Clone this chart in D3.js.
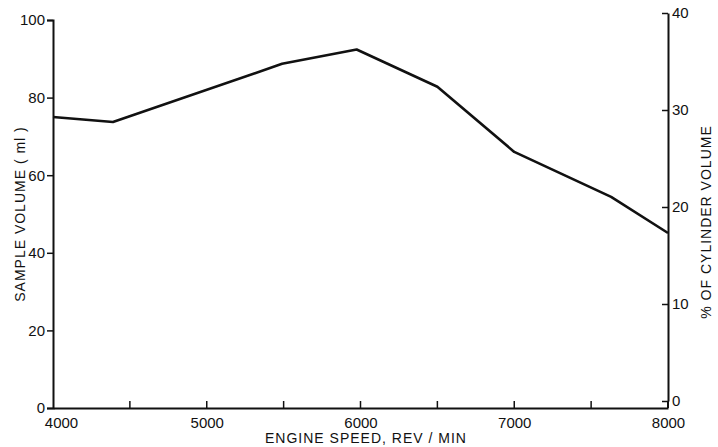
<!DOCTYPE html>
<html>
<head>
<meta charset="utf-8">
<script src="https://cdn.jsdelivr.net/npm/d3@7"></script>
<style>
  body { margin: 0; background: #fff; }
  text { font-family: "Liberation Sans", Arial, sans-serif; fill: #111; }
</style>
</head>
<body>
<svg id="chart"></svg>
<script>
// engine speed (rev/min) vs sample volume (ml)
const speeds = [4000, 4390, 5490, 5975, 6500, 7000, 7630, 8000]
const volumes = [75.0, 73.7, 88.7, 92.4, 82.8, 66.0, 54.4, 45.1]
const xTicks = [4000, 5000, 6000, 7000, 8000]
const xMinorTicks = [4500, 5500, 6500, 7500]
const leftTicks = [0, 20, 40, 60, 80, 100]
const rightTicks = [0, 10, 20, 30, 40]

const width = 718
const height = 447
const svg = d3.select('#chart').attr('width', width).attr('height', height)

const x = d3.scaleLinear().domain([4000, 8000]).range([53, 668])
const yL = d3.scaleLinear().domain([0, 100]).range([408, 20])
const yR = d3.scaleLinear().domain([0, 40]).range([401, 13])

// 軸
const xAxis = d3.axisBottom(x).tickValues(xTicks).tickSize(0).tickPadding(9)
  .tickFormat(d3.format('d'))
const gx = svg.append('g').attr('transform', `translate(0,${yL(0)})`).call(xAxis)
gx.select('.domain').attr('stroke', '#111').attr('stroke-width', 2)
gx.selectAll('text').attr('font-size', 15).attr('dy', '0.75em')
  .attr('dx', d => d === 4000 ? 8 : 0)

// x ticks point up into the plot
svg.append('g').selectAll('line')
  .data(xTicks.concat(xMinorTicks).filter(d => d > 4000 && d < 8000))
  .enter().append('line')
  .attr('x1', d => x(d)).attr('x2', d => x(d))
  .attr('y1', yL(0)).attr('y2', yL(0) - 7)
  .attr('stroke', '#111').attr('stroke-width', 1.5)

const leftAxis = d3.axisLeft(yL).tickValues(leftTicks).tickSize(6).tickPadding(2)
const gl = svg.append('g').attr('transform', `translate(${x(4000)},0)`).call(leftAxis)
gl.select('.domain').attr('stroke', '#111').attr('stroke-width', 2)
gl.selectAll('line').attr('stroke', '#111').attr('stroke-width', 1.5)
gl.selectAll('text').attr('font-size', 15)

const rightAxis = d3.axisRight(yR).tickValues(rightTicks).tickSizeInner(-6).tickSizeOuter(0).tickPadding(4)
const gr = svg.append('g').attr('transform', `translate(${x(8000)},0)`).call(rightAxis)
gr.select('.domain').attr('stroke', '#111').attr('stroke-width', 2)
gr.selectAll('line').attr('stroke', '#111').attr('stroke-width', 1.5)
gr.selectAll('text').attr('font-size', 15)
// carry the right axis line down to the x axis
gr.append('line')
  .attr('x1', 0).attr('x2', 0)
  .attr('y1', yR(0)).attr('y2', yL(0))
  .attr('stroke', '#111').attr('stroke-width', 2)

// titles
svg.append('text')
  .attr('x', 366).attr('y', 443)
  .attr('text-anchor', 'middle').attr('font-size', 14).attr('letter-spacing', 1)
  .text('ENGINE SPEED, REV / MIN')

svg.append('text')
  .attr('transform', 'translate(25,214) rotate(-90)')
  .attr('text-anchor', 'middle').attr('font-size', 14).attr('letter-spacing', 1)
  .text('SAMPLE VOLUME ( ml )')

svg.append('text')
  .attr('transform', 'translate(711,222) rotate(-90)')
  .attr('text-anchor', 'middle').attr('font-size', 14).attr('letter-spacing', 1)
  .text('% OF CYLINDER VOLUME')

// 曲線
const line = d3.line()
  .x((d, i) => x(speeds[i]))
  .y(d => yL(d))

svg.append('path')
  .datum(volumes)
  .attr('d', line)
  .attr('fill', 'none')
  .attr('stroke', '#111')
  .attr('stroke-width', 2.6)
  .attr('stroke-linejoin', 'round')
</script>
</body>
</html>
